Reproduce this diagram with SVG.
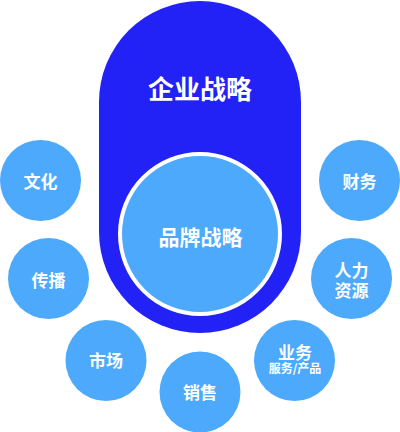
<svg xmlns="http://www.w3.org/2000/svg" width="400" height="432" viewBox="0 0 400 432">
<style>
.sm{fill:#4da9fb;}
.t{fill:#fff;font-family:"Noto Sans CJK SC","Noto Sans",sans-serif;font-weight:bold;text-anchor:middle;dominant-baseline:central;}
</style>
<rect width="400" height="432" fill="#fff"/>
<g id="enterprise">
<rect x="99" y="1" width="202" height="332" rx="101" ry="101" fill="#2222f6"/>
<text class="t" x="200" y="87.5" font-size="26">企业战略</text>
</g>
<g id="brand">
<circle cx="200" cy="234" r="80" fill="#4da9fb" stroke="#fff" stroke-width="4"/>
<text class="t" x="200.5" y="236" font-size="21">品牌战略</text>
</g>
<g id="culture">
<circle class="sm" cx="40.5" cy="180.5" r="40.5"/>
<text class="t" x="40.5" y="180" font-size="17">文化</text>
</g>
<g id="spread">
<circle class="sm" cx="48.5" cy="278.5" r="40.5"/>
<text class="t" x="48.5" y="279" font-size="17">传播</text>
</g>
<g id="market">
<circle class="sm" cx="106" cy="360.5" r="40.5"/>
<text class="t" x="106" y="359.5" font-size="17">市场</text>
</g>
<g id="sales">
<circle class="sm" cx="200" cy="392" r="40.5"/>
<text class="t" x="200" y="391.5" font-size="17">销售</text>
</g>
<g id="business">
<circle class="sm" cx="294.5" cy="360.5" r="40.5"/>
<text class="t" x="295" y="351.5" font-size="17">业务</text>
<text class="t" x="295" y="367.5" font-size="12">服务/产品</text>
</g>
<g id="hr">
<circle class="sm" cx="351.5" cy="278.5" r="40.5"/>
<text class="t" x="351.5" y="269" font-size="17">人力</text>
<text class="t" x="351.5" y="289" font-size="17">资源</text>
</g>
<g id="finance">
<circle class="sm" cx="359.5" cy="180.5" r="40.5"/>
<text class="t" x="359.5" y="180" font-size="17">财务</text>
</g>
<g id="connectors"></g>
</svg>
